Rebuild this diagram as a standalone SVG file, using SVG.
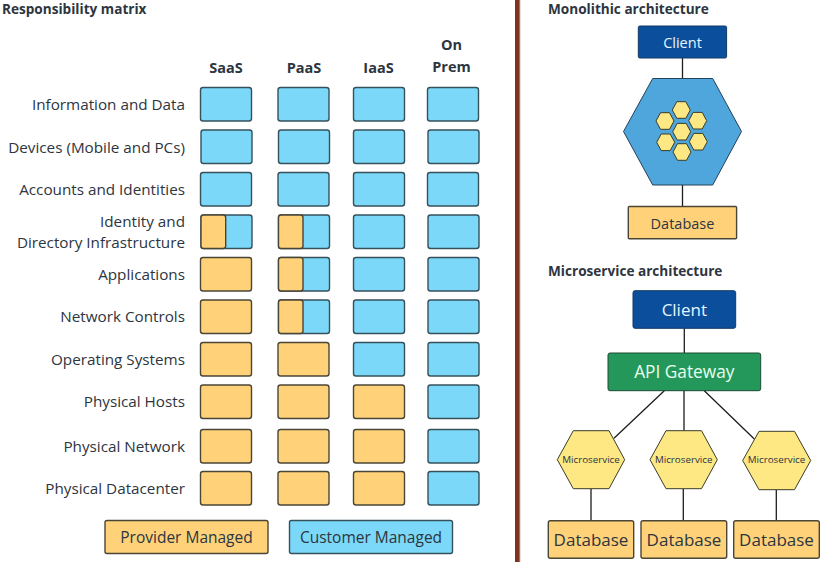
<svg xmlns="http://www.w3.org/2000/svg" width="822" height="562" viewBox="0 0 822 562">
<defs>
<style>
text{font-family:"Open Sans","Noto Sans","Liberation Sans",sans-serif;fill:#2d3540}
.h{font-weight:700;font-size:13.600px}
.c{font-weight:700;font-size:14.500px;text-anchor:middle}
.l{font-size:15.250px;text-anchor:end}
.m{text-anchor:middle}
.b{fill:#7bd8f8;stroke:#36505c;stroke-width:1.400}
.o{fill:#ffd27a;stroke:#4a4636;stroke-width:1.400}
.line{stroke:#1e1e1e;stroke-width:1.300;fill:none}
.y{fill:#fde884;stroke:#3c3c28;stroke-width:1}
</style>
</defs>
<rect width="822" height="562" fill="#fff"/>
<rect x="515" y="0" width="5" height="562" fill="#7a3420"/>
<rect x="519.300" y="0" width="1" height="562" fill="#c08a78"/>
<text class="h" x="2" y="13.500">Responsibility matrix</text>
<text class="h" x="548" y="13.500">Monolithic architecture</text>
<text class="h" x="548" y="275.500">Microservice architecture</text>
<text class="c" x="226" y="73">SaaS</text>
<text class="c" x="304" y="73">PaaS</text>
<text class="c" x="378.500" y="73">IaaS</text>
<text class="c" x="451.500" y="50">On</text>
<text class="c" x="451.500" y="72">Prem</text>
<g id="row-labels">
<text class="l" x="185" y="109.500">Information and Data</text>
<text class="l" x="185" y="152.500">Devices (Mobile and PCs)</text>
<text class="l" x="185" y="194.500">Accounts and Identities</text>
<text class="l" x="185" y="226.500">Identity and</text>
<text class="l" x="185" y="247.500">Directory Infrastructure</text>
<text class="l" x="185" y="279.500">Applications</text>
<text class="l" x="185" y="321.500">Network Controls</text>
<text class="l" x="185" y="364.500">Operating Systems</text>
<text class="l" x="185" y="406.500">Physical Hosts</text>
<text class="l" x="185" y="451.500">Physical Network</text>
<text class="l" x="185" y="493.500">Physical Datacenter</text>
</g>
<g id="matrix">
<g id="row-1"><rect class="b" x="200.500" y="87.500" width="51" height="33.500" rx="2.500"/><rect class="b" x="278" y="87.500" width="51" height="33.500" rx="2.500"/><rect class="b" x="353.500" y="87.500" width="51" height="33.500" rx="2.500"/><rect class="b" x="427.500" y="87.500" width="51" height="33.500" rx="2.500"/></g>
<g id="row-2"><rect class="b" x="201" y="130" width="51" height="33.500" rx="2.500"/><rect class="b" x="278.500" y="130" width="51" height="33.500" rx="2.500"/><rect class="b" x="353.500" y="130" width="51" height="33.500" rx="2.500"/><rect class="b" x="428" y="130" width="51" height="33.500" rx="2.500"/></g>
<g id="row-3"><rect class="b" x="200.500" y="172.500" width="51" height="33.500" rx="2.500"/><rect class="b" x="278" y="172.500" width="51" height="33.500" rx="2.500"/><rect class="b" x="353.500" y="172.500" width="51" height="33.500" rx="2.500"/><rect class="b" x="427.500" y="172.500" width="51" height="33.500" rx="2.500"/></g>
<g id="row-4"><rect class="b" x="201" y="215" width="51" height="33.500" rx="2.500"/><rect class="o" x="201" y="215" width="24.700" height="33.500" rx="2.500"/><rect class="b" x="278.500" y="215" width="51" height="33.500" rx="2.500"/><rect class="o" x="278.500" y="215" width="24.500" height="33.500" rx="2.500"/><rect class="b" x="353.500" y="215" width="51" height="33.500" rx="2.500"/><rect class="b" x="428" y="215" width="51" height="33.500" rx="2.500"/></g>
<g id="row-5"><rect class="o" x="200.500" y="257.500" width="51" height="33.500" rx="2.500"/><rect class="b" x="278.500" y="257.500" width="51" height="33.500" rx="2.500"/><rect class="o" x="278.500" y="257.500" width="24.500" height="33.500" rx="2.500"/><rect class="b" x="353.500" y="257.500" width="51" height="33.500" rx="2.500"/><rect class="b" x="428" y="257.500" width="51" height="33.500" rx="2.500"/></g>
<g id="row-6"><rect class="o" x="200.500" y="300" width="51" height="33.500" rx="2.500"/><rect class="b" x="278.500" y="300" width="51" height="33.500" rx="2.500"/><rect class="o" x="278.500" y="300" width="24.500" height="33.500" rx="2.500"/><rect class="b" x="353.500" y="300" width="51" height="33.500" rx="2.500"/><rect class="b" x="428" y="300" width="51" height="33.500" rx="2.500"/></g>
<g id="row-7"><rect class="o" x="200.500" y="342.500" width="51" height="33.500" rx="2.500"/><rect class="o" x="278" y="342.500" width="51" height="33.500" rx="2.500"/><rect class="b" x="353.500" y="342.500" width="51" height="33.500" rx="2.500"/><rect class="b" x="428" y="342.500" width="51" height="33.500" rx="2.500"/></g>
<g id="row-8"><rect class="o" x="200.500" y="385" width="51" height="33.500" rx="2.500"/><rect class="o" x="278" y="385" width="51" height="33.500" rx="2.500"/><rect class="o" x="353.500" y="385" width="51" height="33.500" rx="2.500"/><rect class="b" x="428" y="385" width="51" height="33.500" rx="2.500"/></g>
<g id="row-9"><rect class="o" x="200.500" y="429.500" width="51" height="33.500" rx="2.500"/><rect class="o" x="278" y="429.500" width="51" height="33.500" rx="2.500"/><rect class="o" x="353.500" y="429.500" width="51" height="33.500" rx="2.500"/><rect class="b" x="428" y="429.500" width="51" height="33.500" rx="2.500"/></g>
<g id="row-10"><rect class="o" x="200.500" y="471.500" width="51" height="33.500" rx="2.500"/><rect class="o" x="278" y="471.500" width="51" height="33.500" rx="2.500"/><rect class="o" x="353.500" y="471.500" width="51" height="33.500" rx="2.500"/><rect class="b" x="428" y="471.500" width="51" height="33.500" rx="2.500"/></g>
</g>
<g id="legend-provider"><rect class="o" x="105" y="520.500" width="163" height="33" rx="2"/><text class="m" x="186.500" y="543" font-size="15.500">Provider Managed</text></g>
<g id="legend-customer"><rect class="b" x="289.500" y="520.500" width="163" height="33" rx="2"/><text class="m" x="371" y="543" font-size="15.500">Customer Managed</text></g>
<g id="connectors">
<path class="line" d="M682.500 58V78.500M682.500 185V206.500M684.300 328.300V353M664.300 390.700L614 438.300M684 390.700V430.700M704.300 390.700L754.300 439M591 488.700V520.700M683.300 488.700V520.700M776.300 489.700V520.700"/>
</g>
<g id="mono-client"><rect x="638.300" y="26" width="88.300" height="32" rx="1.500" fill="#0b4f9c" stroke="#123a66" stroke-width="1"/><text class="m" x="682.500" y="48" font-size="14.500" style="fill:#e4f6ff">Client</text></g>
<g id="monolith">
<polygon points="623.500,131.500 652.700,78.500 712.700,78.500 741.500,131.500 712.700,185 652.700,185" fill="#4ea6dc" stroke="#24425a" stroke-width="1"/>
<g id="monolith-cells" class="y">
<polygon points="672.300,110 676.800,101.700 685.800,101.700 690.300,110 685.800,118.300 676.800,118.300"/>
<polygon points="656,121 660.500,112.700 669.500,112.700 674,121 669.500,129.300 660.500,129.300"/>
<polygon points="688.700,120.700 693.200,112.400 702.200,112.400 706.700,120.700 702.200,129 693.200,129"/>
<polygon points="672.700,131.700 677.200,123.400 686.200,123.400 690.700,131.700 686.200,140 677.200,140"/>
<polygon points="656.700,142.300 661.200,134 670.200,134 674.700,142.300 670.200,150.600 661.200,150.600"/>
<polygon points="689.300,141.700 693.800,133.400 702.800,133.400 707.300,141.700 702.800,150 693.800,150"/>
<polygon points="673,152 677.500,143.700 686.500,143.700 691,152 686.500,160.300 677.500,160.300"/>
</g>
</g>
<g id="mono-database"><rect class="o" x="628.300" y="206.500" width="108.300" height="32.300" rx="1"/><text class="m" x="682.500" y="229" font-size="14.500">Database</text></g>
<g id="micro-client"><rect x="633" y="290.700" width="102.700" height="37.600" rx="2" fill="#0b4f9c" stroke="#123a66" stroke-width="1"/><text class="m" x="684.300" y="315.500" font-size="17" style="fill:#e4f6ff">Client</text></g>
<g id="api-gateway"><rect x="608" y="353" width="152.700" height="37.700" rx="2" fill="#23985a" stroke="#1c4a34" stroke-width="1"/><text class="m" x="684.300" y="378" font-size="17.300" style="fill:#e8fff0">API Gateway</text></g>
<g id="microservice-1"><polygon class="y" points="557.300,459.700 573.300,430.700 609,430.700 624.700,459.700 609,488.700 573.300,488.700"/><text class="m" x="591" y="463" font-size="9.800">Microservice</text></g>
<g id="microservice-2"><polygon class="y" points="650,459.700 666,430.700 701.500,430.700 717.300,459.700 701.500,488.700 666,488.700"/><text class="m" x="683.700" y="463" font-size="9.800">Microservice</text></g>
<g id="microservice-3"><polygon class="y" points="742.700,460.500 759,431.300 794.500,431.300 810.700,460.500 794.500,489.700 759,489.700"/><text class="m" x="776.500" y="463" font-size="9.800">Microservice</text></g>
<g id="database-1"><rect class="o" x="548.300" y="520.700" width="85.400" height="37.600" rx="2"/><text class="m" x="591" y="546" font-size="17">Database</text></g>
<g id="database-2"><rect class="o" x="641" y="520.700" width="85.700" height="37.600" rx="2"/><text class="m" x="684" y="546" font-size="17">Database</text></g>
<g id="database-3"><rect class="o" x="733.700" y="520.700" width="85.600" height="37.600" rx="2"/><text class="m" x="776.500" y="546" font-size="17">Database</text></g>
</svg>
